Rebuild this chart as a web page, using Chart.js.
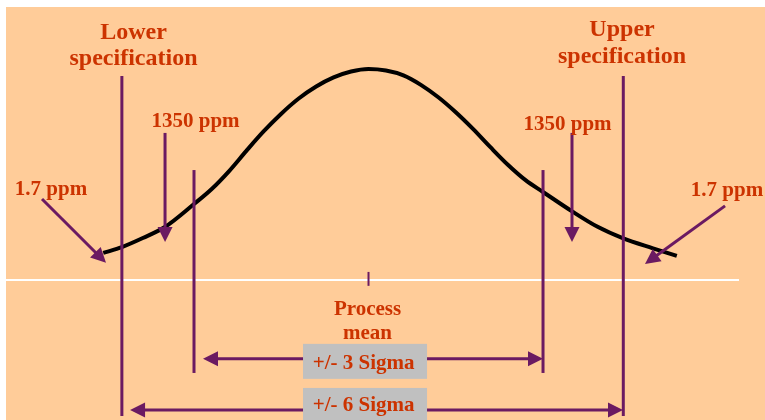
<!DOCTYPE html>
<html>
<head>
<meta charset="utf-8">
<script src="https://cdn.jsdelivr.net/npm/chart.js@4"></script>
<style>
  html, body { margin: 0; padding: 0; background: #fff; }
  #wrap { width: 765px; height: 420px; }
</style>
</head>
<body>
<div id="wrap"><canvas id="myChart" width="765" height="420"></canvas></div>
<script>
// x = distance from the process mean in sigma units, y = height relative to the peak
const curveX = [-4.56, -4.24, -3.88, -3.50, -3.00, -2.70, -2.40, -2.10, -1.80, -1.50, -1.20, -0.90, -0.60, -0.30, 0.00,
                0.30, 0.60, 0.90, 1.20, 1.50, 1.80, 2.10, 2.40, 2.70, 3.00, 3.50, 3.93, 4.38, 4.89, 5.30];
const curveY = [0.128, 0.156, 0.199, 0.251, 0.360, 0.430, 0.515, 0.612, 0.705, 0.788, 0.860, 0.917, 0.960, 0.988, 1.0,
                0.993, 0.970, 0.925, 0.866, 0.795, 0.715, 0.628, 0.545, 0.473, 0.417, 0.325, 0.253, 0.197, 0.150, 0.114];

const specLimits = [-4.24, 4.38];      // lower / upper specification
const sigma3Limits = [-3.0, 3.0];       // +/- 3 sigma
const processMean = 0;
const tailPpm = ['1350 ppm', '1.7 ppm'];
const specLabels = [['Lower', 'specification'], ['Upper', 'specification']];
const spanLabels = ['+/- 3 Sigma', '+/- 6 Sigma'];

const PURPLE = '#6b1a62';
const RED = '#cc3300';
const PEACH = '#ffcc99';

function seg(x1, y1, x2, y2) { return [{x: x1, y: y1}, {x: x2, y: y2}]; }

const lineStyle = { borderColor: PURPLE, borderWidth: 3, pointRadius: 0, showLine: true, fill: false };

const datasets = [];
specLimits.forEach(x => datasets.push(Object.assign({ data: seg(x, -0.645, x, 0.967) }, lineStyle)));
sigma3Limits.forEach(x => datasets.push(Object.assign({ data: seg(x, -0.441, x, 0.521) }, lineStyle)));
datasets.push(Object.assign({ data: seg(processMean, -0.028, processMean, 0.038) }, lineStyle, { borderWidth: 2 }));
datasets.push({ data: seg(-6.232, 0, 6.369, 0), borderColor: '#ffffff', borderWidth: 2, pointRadius: 0, showLine: true });
datasets.push({
  data: curveX.map((x, i) => ({ x: x, y: curveY[i] })),
  borderColor: '#000', borderWidth: 4, pointRadius: 0, showLine: true,
  cubicInterpolationMode: 'monotone', fill: false
});

const bgPlugin = {
  id: 'bg',
  beforeDraw(chart) {
    const c = chart.ctx, a = chart.chartArea;
    c.save();
    c.fillStyle = '#fff';
    c.fillRect(0, 0, chart.width, chart.height);
    c.fillStyle = PEACH;
    c.fillRect(a.left, a.top, a.right - a.left, a.bottom - a.top);
    c.restore();
  }
};

function drawArrow(c, x1, y1, x2, y2) {
  const dx = x2 - x1, dy = y2 - y1, len = Math.hypot(dx, dy);
  const ux = dx / len, uy = dy / len, head = 15, half = 7.5;
  const bx = x2 - ux * head, by = y2 - uy * head;
  c.beginPath();
  c.moveTo(x1, y1);
  c.lineTo(bx + ux, by + uy);
  c.stroke();
  c.beginPath();
  c.moveTo(x2, y2);
  c.lineTo(bx - uy * half, by + ux * half);
  c.lineTo(bx + uy * half, by - ux * half);
  c.closePath();
  c.fill();
}

const notesPlugin = {
  id: 'notes',
  afterDatasetsDraw(chart) {
    const c = chart.ctx;
    const X = v => chart.scales.x.getPixelForValue(v);
    const Y = v => chart.scales.y.getPixelForValue(v);
    c.save();
    c.strokeStyle = PURPLE;
    c.fillStyle = PURPLE;
    c.lineWidth = 3;

    // tail arrows
    drawArrow(c, X(-3.498), Y(0.697), X(-3.498), Y(0.180));
    drawArrow(c, X(3.498), Y(0.697), X(3.498), Y(0.180));
    drawArrow(c, X(-5.613), Y(0.384), X(-4.513), Y(0.081));
    drawArrow(c, X(6.129), Y(0.351), X(4.753), Y(0.076));

    // span arrows
    [[-0.374, -2.845, 3.0], [-0.616, -4.099, 4.375]].forEach(s => {
      drawArrow(c, X(0), Y(s[0]), X(s[1]), Y(s[0]));
      drawArrow(c, X(0), Y(s[0]), X(s[2]), Y(s[0]));
    });

    // grey label boxes
    c.fillStyle = '#c0c0c0';
    [[-0.303, -0.469], [-0.512, -0.664]].forEach(b => {
      c.fillRect(X(-1.126), Y(b[0]), X(1.006) - X(-1.126), Y(b[1]) - Y(b[0]));
    });

    c.fillStyle = RED;
    c.textAlign = 'center';
    c.textBaseline = 'alphabetic';
    c.font = 'bold 24px "Liberation Serif", "Times New Roman", serif';
    c.fillText(specLabels[0][0], X(-4.040), Y(1.142));
    c.fillText(specLabels[0][1], X(-4.040), Y(1.019));
    c.fillText(specLabels[1][0], X(4.358), Y(1.156));
    c.fillText(specLabels[1][1], X(4.358), Y(1.028));

    c.font = 'bold 21px "Liberation Serif", "Times New Roman", serif';
    c.fillText(tailPpm[0], X(-2.974), Y(0.725));
    c.fillText(tailPpm[0], X(3.421), Y(0.711));
    c.fillText(tailPpm[1], X(-5.458), Y(0.403));
    c.fillText(tailPpm[1], X(6.163), Y(0.398));
    c.fillText('Process', X(-0.017), Y(-0.166));
    c.fillText('mean', X(-0.017), Y(-0.280));
    c.fillText(spanLabels[0], X(-0.083), Y(-0.422));
    c.fillText(spanLabels[1], X(-0.083), Y(-0.623));
    c.restore();
  }
};

const ctx = document.getElementById('myChart').getContext('2d');
new Chart(ctx, {
  type: 'scatter',
  data: { datasets: datasets },
  options: {
    responsive: false,
    animation: false,
    layout: { padding: { left: 6, top: 7, right: 0, bottom: 0 } },
    plugins: { legend: { display: false }, tooltip: { enabled: false } },
    scales: {
      x: { type: 'linear', min: -6.232, max: 6.816, display: false },
      y: { type: 'linear', min: -0.664, max: 1.294, display: false }
    }
  },
  plugins: [bgPlugin, notesPlugin]
});
</script>
</body>
</html>
